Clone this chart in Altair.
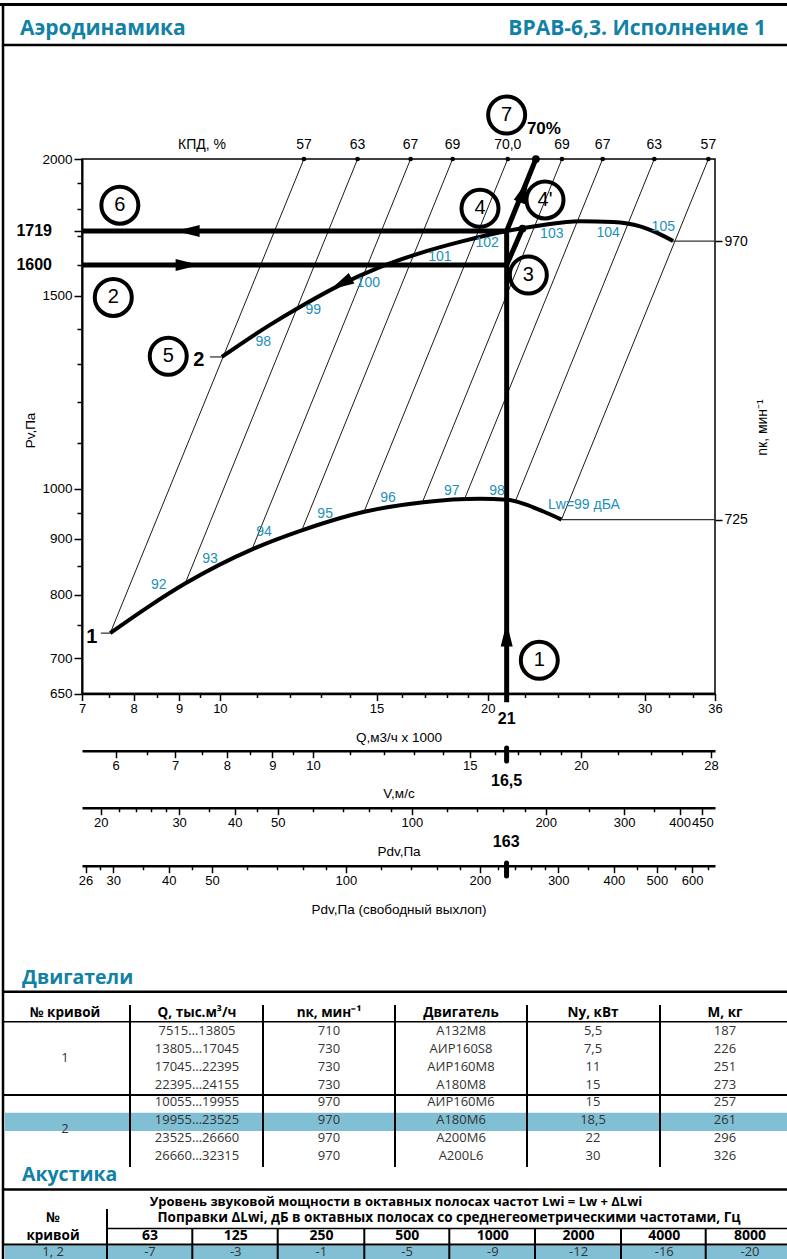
import altair as alt
import pandas as pd

# ---------------- layout constants (pixels) ----------------
W, H = 787, 1259
X0, X1 = 82, 715          # plot area left / right
YT, YB = 159, 693.5       # plot area top / bottom
XC = (X0 + X1) / 2
TEAL = "#1181a6"
BLUE = "#2290b9"
BAND = "#80bfd4"
FONT = "Liberation Sans"
TFONT = "Open Sans"

# ---------------- values ----------------
q_domain = [7, 36]          # Q, thousand m3/h
p_domain = [650, 2000]      # Pv, Pa
v_domain = [5.5, 28.29]     # V, m/s
pdv_domain = [18.15, 480.2]
pdvf_domain = [25.52, 675.2]

q_major = [7, 8, 9, 10, 15, 20, 30, 36]
q_minor = [7.5, 8.5, 9.5, 11, 12, 13, 14, 16, 17, 18, 19, 22, 24, 26, 28, 32, 34]
p_major = [650, 700, 800, 900, 1000, 1500, 2000, 1719]
p_labels = [650, 700, 800, 900, 1000, 1500, 2000]
p_minor = [750, 850, 950, 1100, 1200, 1300, 1400, 1600, 1700, 1800, 1900]
v_major = [6, 7, 8, 9, 10, 15, 20, 28]
v_minor = [6.5, 7.5, 8.5, 9.5, 11, 12, 13, 14, 16, 17, 18, 19, 22, 24, 26]
pdv_major = [20, 30, 40, 50, 100, 200, 300, 400, 450]
pdv_minor = [22, 24, 26, 28, 35, 45, 60, 70, 80, 90, 120, 140, 160, 180, 250, 350]
pdvf_major = [26, 30, 40, 50, 100, 200, 300, 400, 500, 600]
pdvf_minor = [28, 35, 45, 60, 70, 80, 90, 120, 140, 160, 180, 220, 240, 260, 280,
              350, 450, 550, 650]

# fan curve 2 (n = 970 1/min)
c2_q = [10.05, 11.29, 12.30, 13.64, 15.13, 16.79, 18.61, 21.0, 22.89, 25.38, 27.66, 29.66, 31.0, 32.3]
c2_p = [1319, 1405, 1465, 1534, 1593, 1641, 1680, 1719, 1739, 1755, 1752, 1736, 1712, 1683]
# fan curve 1 (n = 725 1/min)
c1_q = [7.53, 8.35, 9.14, 10.90, 12.36, 14.49, 16.93, 19.61, 21.0, 22.0, 23.1, 24.2]
c1_p = [738, 782, 819, 881, 916, 952, 972, 979, 977, 968, 953, 937]

# sound power labels along the curves
c2_lbl = ["98", "99", "100", "101", "102", "103", "104", "105"]
c2_lbl_q = [11.19, 12.73, 14.68, 17.67, 19.97, 23.6, 27.31, 31.49]
c2_lbl_p = [1362, 1455, 1540, 1628, 1675, 1708, 1710, 1734]
c1_lbl = ["92", "93", "94", "95", "96", "97", "98"]
c1_lbl_q = [8.54, 9.75, 11.21, 13.13, 15.45, 18.22, 20.48]
c1_lbl_p = [816, 862, 912, 949, 980, 995, 995]
lw_lbl = ["Lw=99 дБА"]
lw_q = [23.37]
lw_p = [966]

# efficiency (КПД) lines: top point and end on curve 1
eff_lbl = ["57", "63", "67", "69", "70,0", "69", "67", "63", "57"]
eff_top_q = [12.43, 14.28, 16.38, 18.26, 21.06, 24.23, 26.92, 30.77, 35.39]
eff_top_p = [2000, 2000, 2000, 2000, 2000, 2000, 2000, 2000, 2000]
eff_end_q = [7.53, 9.14, 10.89, 12.36, 14.5, 16.89, 18.83, 21.5, 24.2]
eff_end_p = [738, 819, 884, 916, 950, 972, 978, 976, 937]

# curve end lines to the rpm scale
end_q = [32.3, 24.2]
end_p = [1683, 937]
end_rpm = ["970", "725"]

# worked example (thick lines)
seg_q1 = [21, 7, 7, 21, 21]
seg_p1 = [638, 1600, 1719, 1600, 1719]
seg_q2 = [21, 21, 21, 21.88, 22.65]
seg_p2 = [1719, 1600, 1719, 1728, 2000]
arr_q = [21, 9.2, 9.2, 13.68, 21.95]
arr_p = [736, 1600, 1719, 1538, 1870]
arr_dir = [0, 90, 270, 242, 22]
dot_q = [21.88, 22.65]
dot_p = [1728, 2000]
eff70_lbl = ["70%"]
eff70_q = [22.65]
lvl_lbl = ["1719", "1600"]
lvl_p = [1719, 1600]
work_q, work_v, work_pdv, work_pdvf = 21, 16.5, 163, 229.6

circ_lbl = ["1", "2", "3", "4", "4'", "5", "6", "7"]
circ_q = [22.85, 7.59, 22.21, 19.6, 23.19, 8.75, 7.72, 21.0]
circ_p = [697, 1495, 1567, 1803, 1835, 1321, 1815, 2194]

tag_lbl = ["1", "2"]
tag_q = [7.18, 9.47]
tag_p = [732, 1310]
tagtick_q1 = [7.35, 9.75]
tagtick_q2 = [7.53, 10.05]
tagtick_p = [738, 1319]

# table "Двигатели"
t1_head = ["№ кривой", "Q, тыс.м³/ч", "nк, мин⁻¹", "Двигатель", "Ny, кВт", "M, кг"]
t1_curve = ["1", "2"]
t1_groups = [[0, 3], [4, 7]]
t1_q = ["7515…13805", "13805…17045", "17045…22395", "22395…24155",
        "10055…19955", "19955…23525", "23525…26660", "26660…32315"]
t1_n = ["710", "730", "730", "730", "970", "970", "970", "970"]
t1_motor = ["А132М8", "АИР160S8", "АИР160М8", "А180М8", "АИР160М6", "А180М6", "А200М6", "А200L6"]
t1_ny = ["5,5", "7,5", "11", "15", "15", "18,5", "22", "30"]
t1_m = ["187", "226", "251", "273", "257", "261", "296", "326"]
t1_hl = 5

# table "Акустика"
t2_title1 = "Уровень звуковой мощности в октавных полосах частот Lwi = Lw + ΔLwi"
t2_title2 = "Поправки ΔLwi, дБ в октавных полосах со среднегеометрическими частотами, Гц"
t2_freq = ["63", "125", "250", "500", "1000", "2000", "4000", "8000"]
t2_curve = "1, 2"
t2_corr = ["-7", "-3", "-1", "-5", "-9", "-12", "-16", "-20"]

# ---------------- scales ----------------
QS = alt.Scale(type="log", domain=q_domain, range=[X0, X1], nice=False)
PS = alt.Scale(type="log", domain=p_domain, range=[YB, YT], nice=False)
VS = alt.Scale(type="log", domain=v_domain, range=[X0, X1], nice=False)
DS = alt.Scale(type="log", domain=pdv_domain, range=[X0, X1], nice=False)
FS = alt.Scale(type="log", domain=pdvf_domain, range=[X0, X1], nice=False)


def in_list(vals):
    return "indexof([" + ",".join(str(v) for v in vals) + "], datum.value) >= 0"


def bottom_axis(y, values, labels, title, title_y, size=7):
    kw = dict(orient="bottom", offset=y - H, values=values, tickSize=size,
              tickWidth=1.5, domainWidth=2.5, labelPadding=2, labelFontSize=13)
    if labels:
        kw.update(labelExpr="format(datum.value, '')", title=title, titleX=XC,
                  titleY=title_y, titleBaseline="middle", titleAlign="center")
    else:
        kw.update(labels=False, domain=False, title=None)
    return alt.Axis(**kw)


AX_Q = bottom_axis(YB, q_major, True, "Q,м3/ч x 1000", 44)
AX_QM = bottom_axis(YB, q_minor, False, None, 0, 4)
AX_V = bottom_axis(750.7, v_major, True, "V,м/с", 43)
AX_VM = bottom_axis(750.7, v_minor, False, None, 0, 4)
AX_D = bottom_axis(807.7, pdv_major, True, "Pdv,Па", 43.5)
AX_DM = bottom_axis(807.7, pdv_minor, False, None, 0, 4)
AX_F = bottom_axis(865.7, pdvf_major, True, "Pdv,Па (свободный выхлоп)", 43.5)
AX_FM = bottom_axis(865.7, pdvf_minor, False, None, 0, 4)

AX_P = alt.Axis(orient="left", offset=-X0, values=p_major,
                labelExpr=in_list(p_labels) + " ? format(datum.value, 'd') : ''",
                tickSize=8, tickWidth=1.5, domainWidth=2, labelPadding=2, labelFontSize=13.5,
                title="Pv,Па", titleX=30 - X0, titleY=430, titleAngle=270,
                titleAlign="center", titleBaseline="middle")
AX_PM = alt.Axis(orient="left", offset=-X0, values=p_minor, tickSize=5, tickWidth=1.5,
                 labels=False, domain=False, title=None)
AX_R = alt.Axis(orient="right", offset=X1 - W, values=end_p,
                labelExpr="datum.value > 1200 ? '" + end_rpm[0] + "' : '" + end_rpm[1] + "'",
                tickSize=7, tickWidth=1.5, labelPadding=2, labelFontSize=14, domain=False,
                title="nк, мин⁻¹", titleX=47, titleY=427, titleAngle=270,
                titleAlign="center", titleBaseline="middle", titleFontSize=14)


def one():
    return pd.DataFrame({"k": [0]})


def hrule(y, x1, x2, w):
    return alt.Chart(one()).mark_rule(color="black", strokeWidth=w).encode(
        x=alt.value(x1), x2=alt.value(x2), y=alt.value(y))


def vrule(x, y1, y2, w):
    return alt.Chart(one()).mark_rule(color="black", strokeWidth=w).encode(
        x=alt.value(x), y=alt.value(y1), y2=alt.value(y2))


def ptext(t, x, y, size, weight="normal", color="black", align="center", font=FONT):
    return alt.Chart(one()).mark_text(text=t, fontSize=size, fontWeight=weight, color=color,
                                      align=align, font=font, baseline="middle").encode(
        x=alt.value(x), y=alt.value(y))


def X(field, scale=QS, axis=None):
    return alt.X(field + ":Q", scale=scale, axis=axis)


def Y(field, axis=None):
    return alt.Y(field + ":Q", scale=PS, axis=axis)


layers = []

# header band
layers += [hrule(4.5, 0, W, 3), vrule(3, 3, H, 2.5), hrule(45, 3, W, 2.5),
           ptext("Аэродинамика", 20, 29, 21, "bold", TEAL, "left", TFONT),
           ptext("ВРАВ-6,3. Исполнение 1", 766, 29, 21, "bold", TEAL, "right", TFONT)]

# efficiency lines (carry minor ticks of the main axes)
df_eff = pd.DataFrame({"q1": eff_top_q, "p1": eff_top_p, "q2": eff_end_q,
                       "p2": eff_end_p, "t": eff_lbl})
layers.append(alt.Chart(df_eff).mark_rule(color="black", strokeWidth=0.9).encode(
    x=X("q1", axis=AX_QM), y=Y("p1", axis=AX_PM), x2="q2:Q", y2="p2:Q"))
layers.append(alt.Chart(df_eff).mark_point(filled=True, size=22, color="black", opacity=1).encode(
    x=X("q1"), y=Y("p1")))
layers.append(alt.Chart(df_eff).mark_text(font=FONT, fontSize=14, color="black").encode(
    x=X("q1"), y=alt.value(145), text="t:N"))
layers.append(ptext("КПД, %", 202, 145, 14))

# frame of the plot area
df_frame = pd.DataFrame({"q1": [q_domain[0]], "q2": [q_domain[1]],
                         "p1": [p_domain[0]], "p2": [p_domain[1]]})
layers.append(alt.Chart(df_frame).mark_rect(fillOpacity=0, stroke="black", strokeWidth=1.5).encode(
    x=X("q1"), x2="q2:Q", y=Y("p1"), y2="p2:Q"))

# fan curves
df_c1 = pd.DataFrame({"q": c1_q, "p": c1_p})
df_c2 = pd.DataFrame({"q": c2_q, "p": c2_p})
layers.append(alt.Chart(df_c1).mark_line(color="black", strokeWidth=4, interpolate="monotone").encode(
    x=X("q", axis=AX_Q), y=Y("p", axis=AX_P)))
layers.append(alt.Chart(df_c2).mark_line(color="black", strokeWidth=4, interpolate="monotone").encode(
    x=X("q"), y=Y("p")))

# end lines to the rpm scale
df_end = pd.DataFrame({"q": end_q, "p": end_p, "q2": [q_domain[1]] * len(end_q)})
layers.append(alt.Chart(df_end).mark_rule(color="#333333", strokeWidth=1.2).encode(
    x=X("q"), x2="q2:Q", y=Y("p", axis=AX_R)))

# small tag ticks and bold tags
df_tag = pd.DataFrame({"q": tag_q, "p": tag_p, "t": tag_lbl})
df_tt = pd.DataFrame({"q1": tagtick_q1, "q2": tagtick_q2, "p": tagtick_p})
layers.append(alt.Chart(df_tt).mark_rule(color="black", strokeWidth=1).encode(
    x=X("q1"), x2="q2:Q", y=Y("p")))
layers.append(alt.Chart(df_tag).mark_text(font=FONT, fontSize=20, fontWeight="bold").encode(
    x=X("q"), y=Y("p"), text="t:N"))

# curve labels
df_l2 = pd.DataFrame({"q": c2_lbl_q, "p": c2_lbl_p, "t": c2_lbl})
df_l1 = pd.DataFrame({"q": c1_lbl_q, "p": c1_lbl_p, "t": c1_lbl})
df_lw = pd.DataFrame({"q": lw_q, "p": lw_p, "t": lw_lbl})
for d in (df_l2, df_l1):
    layers.append(alt.Chart(d).mark_text(font=FONT, fontSize=14, color=BLUE).encode(
        x=X("q"), y=Y("p"), text="t:N"))
layers.append(alt.Chart(df_lw).mark_text(font=FONT, fontSize=14, color=BLUE, align="left").encode(
    x=X("q"), y=Y("p"), text="t:N"))

# worked example thick lines
df_seg = pd.DataFrame({"q1": seg_q1, "p1": seg_p1, "q2": seg_q2, "p2": seg_p2})
layers.append(alt.Chart(df_seg).mark_rule(color="black", strokeWidth=5, strokeCap="butt").encode(
    x=X("q1"), y=Y("p1"), x2="q2:Q", y2="p2:Q"))
df_arr = pd.DataFrame({"q": arr_q, "p": arr_p, "a": arr_dir})
layers.append(alt.Chart(df_arr).mark_point(shape="M0,-1L0.5,1L-0.5,1Z", filled=True, size=576,
                                           color="black", opacity=1).encode(
    x=X("q"), y=Y("p"), angle=alt.Angle("a:Q", scale=None)))
df_dot = pd.DataFrame({"q": dot_q, "p": dot_p})
layers.append(alt.Chart(df_dot).mark_point(filled=True, size=60, color="black", opacity=1).encode(
    x=X("q"), y=Y("p")))
df_70 = pd.DataFrame({"q": eff70_q, "t": eff70_lbl})
layers.append(alt.Chart(df_70).mark_text(font=FONT, fontSize=17, fontWeight="bold", dx=8).encode(
    x=X("q"), y=alt.value(129), text="t:N"))
df_lvl = pd.DataFrame({"p": lvl_p, "t": lvl_lbl})
layers.append(alt.Chart(df_lvl).mark_text(font=FONT, fontSize=16, fontWeight="bold", align="right").encode(
    x=alt.value(52), y=Y("p"), text="t:N"))

# circled step numbers
df_circ = pd.DataFrame({"q": circ_q, "p": circ_p, "t": circ_lbl})
layers.append(alt.Chart(df_circ).mark_point(shape="circle", filled=False, size=1369, strokeWidth=4,
                                            color="black", opacity=1).encode(x=X("q"), y=Y("p")))
layers.append(alt.Chart(df_circ).mark_text(font=FONT, fontSize=20).encode(
    x=X("q"), y=Y("p"), text="t:N"))

# bold working value under Q axis
df_wq = pd.DataFrame({"q": [work_q], "t": [str(work_q)]})
layers.append(alt.Chart(df_wq).mark_text(font=FONT, fontSize=16, fontWeight="bold").encode(
    x=X("q"), y=alt.value(719), text="t:N"))

# V scale
df_v = pd.DataFrame({"v": [work_v], "t": ["16,5"]})
layers.append(alt.Chart(df_v).mark_rule(color="black", strokeWidth=5, strokeCap="round").encode(
    x=X("v", VS, AX_V), y=alt.value(748), y2=alt.value(761)))
layers.append(alt.Chart(df_v).mark_text(font=FONT, fontSize=16, fontWeight="bold").encode(
    x=X("v", VS, AX_VM), y=alt.value(781), text="t:N"))

# Pdv scale
df_d = pd.DataFrame({"v": [work_pdv], "t": [str(work_pdv)]})
layers.append(alt.Chart(df_d).mark_text(font=FONT, fontSize=16, fontWeight="bold").encode(
    x=X("v", DS, AX_D), y=alt.value(842), text="t:N"))
layers.append(alt.Chart(df_d).mark_point(opacity=0).encode(
    x=X("v", DS, AX_DM), y=alt.value(842)))

# Pdv free exhaust scale
df_f = pd.DataFrame({"v": [work_pdvf]})
layers.append(alt.Chart(df_f).mark_rule(color="black", strokeWidth=5, strokeCap="round").encode(
    x=X("v", FS, AX_F), y=alt.value(863), y2=alt.value(876)))
layers.append(alt.Chart(df_f).mark_point(opacity=0).encode(
    x=X("v", FS, AX_FM), y=alt.value(870)))

# ---------------- table "Двигатели" ----------------
T1X = alt.Scale(domain=[0, 5], range=[65, 725])
T1Y = alt.Scale(domain=[0, 7], range=[1031, 1156])
layers.append(ptext("Двигатели", 22, 978, 19.5, "bold", TEAL, "left", TFONT))
df_hl = pd.DataFrame({"row": [t1_hl]})
layers.append(alt.Chart(df_hl).transform_calculate(r0="datum.row - 0.42", r1="datum.row + 0.6")
              .mark_rect(color=BAND, opacity=1).encode(
    x=alt.value(5), x2=alt.value(W), y=alt.Y("r0:Q", scale=T1Y, axis=None), y2="r1:Q"))
layers += [hrule(991.7, 3, W, 2.5), hrule(1021.7, 3, W, 1.5), hrule(1095, 3, W, 2)]
layers += [vrule(x, 1005, 1167, 2) for x in (130, 263, 395, 527, 660)]

cells = []
for r in range(len(t1_q)):
    for c, col in enumerate([t1_q, t1_n, t1_motor, t1_ny, t1_m], start=1):
        cells.append({"row": r, "col": c, "t": col[r]})
for lbl, (a, b) in zip(t1_curve, t1_groups):
    cells.append({"row": (a + b) / 2, "col": 0, "t": lbl})
df_cells = pd.DataFrame(cells)
df_head = pd.DataFrame({"row": [-1] * len(t1_head), "col": list(range(len(t1_head))), "t": t1_head})
layers.append(alt.Chart(df_cells).mark_text(font=TFONT, fontSize=13, color="#333333").encode(
    x=alt.X("col:Q", scale=T1X, axis=None), y=alt.Y("row:Q", scale=T1Y, axis=None), text="t:N"))
layers.append(alt.Chart(df_head).mark_text(font=TFONT, fontSize=13.5, fontWeight="bold", color="black").encode(
    x=alt.X("col:Q", scale=T1X, axis=None), y=alt.Y("row:Q", scale=T1Y, axis=None), text="t:N"))

# ---------------- table "Акустика" ----------------
T2X = alt.Scale(domain=[0, len(t2_freq) - 1], range=[150, 750])
layers.append(ptext("Акустика", 22, 1175, 19.5, "bold", TEAL, "left", TFONT))
layers.append(alt.Chart(one()).mark_rect(color=BAND, opacity=1).encode(
    x=alt.value(5), x2=alt.value(W), y=alt.value(1245.5), y2=alt.value(H)))
layers += [hrule(1189.5, 3, W, 2.5), vrule(107, 1209, H, 2), hrule(1228.5, 107, W, 1.5),
           hrule(1244.5, 3, W, 2)]
layers += [vrule(x, 1228.5, H, 2) for x in (192.3, 277.7, 364.3, 449.3, 535, 621, 705.7)]
layers += [ptext(t2_title1, 396, 1201.5, 13, "bold", "black", "center", TFONT),
           ptext(t2_title2, 449, 1218, 13.5, "bold", "black", "center", TFONT),
           ptext("№", 53, 1218, 13.5, "bold", "black", "center", TFONT),
           ptext("кривой", 53, 1236, 13.5, "bold", "black", "center", TFONT),
           ptext(t2_curve, 53, 1252, 13, "normal", "#333333", "center", TFONT)]
df_fr = pd.DataFrame({"i": list(range(len(t2_freq))), "f": t2_freq, "c": t2_corr})
layers.append(alt.Chart(df_fr).mark_text(font=TFONT, fontSize=14, fontWeight="bold", color="black").encode(
    x=alt.X("i:Q", scale=T2X, axis=None), y=alt.value(1236), text="f:N"))
layers.append(alt.Chart(df_fr).mark_text(font=TFONT, fontSize=13, color="#333333").encode(
    x=alt.X("i:Q", scale=T2X, axis=None), y=alt.value(1252), text="c:N"))

chart = (
    alt.layer(*layers)
    .resolve_scale(x="independent", y="independent")
    .properties(width=W, height=H, autosize=alt.AutoSizeParams(type="none"), padding=0,
                background="white")
    .configure_view(stroke=None)
    .configure_axis(labelFont=FONT, titleFont=FONT, labelColor="black", titleColor="black",
                    domainColor="black", tickColor="black", grid=False, labelFlush=False,
                    labelOverlap=False, titleFontSize=13.5, titleFontWeight="normal")
)

chart.save("out.html", embed_options={"renderer": "svg", "actions": False})
